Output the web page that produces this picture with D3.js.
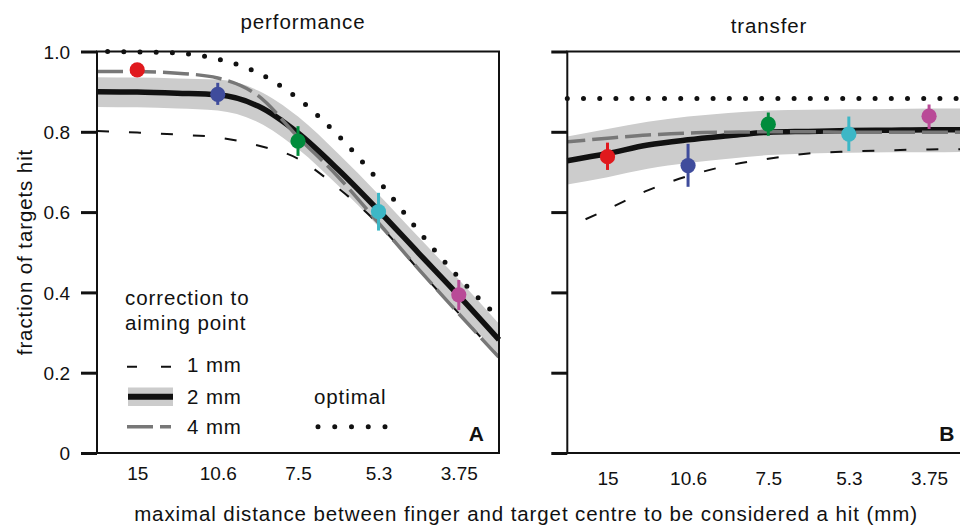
<!DOCTYPE html>
<html>
<head>
<meta charset="utf-8">
<script src="https://cdn.jsdelivr.net/npm/d3@7"></script>
<style>
  body { margin: 0; background: #fff; }
  svg { display: block; font-family: "Liberation Sans", Arial, Helvetica, sans-serif; }
</style>
</head>
<body>
<svg id="chart" width="960" height="527"></svg>
<script>
// Hit radius categories (mm), largest to smallest
const categories = ["15", "10.6", "7.5", "5.3", "3.75"];
const categoryDist = [15, 10.6, 7.5, 5.3, 3.75];
const yTicks = [0, 0.2, 0.4, 0.6, 0.8, 1.0];

// Distances (mm) at which the model curves are sampled
const sampleDist = [17.84, 15, 12.61, 10.6, 8.91, 7.5, 6.31, 5.3, 4.46, 3.75, 3.153];

// Performance: model predictions
const perfOptimal = [1.000, 0.999, 0.996, 0.981, 0.947, 0.883, 0.791, 0.678, 0.553, 0.437, 0.336];
const perf1mm     = [0.802, 0.798, 0.793, 0.786, 0.766, 0.733, 0.660, 0.570, 0.457, 0.348, 0.239];
const perf2mm     = [0.900, 0.899, 0.896, 0.892, 0.864, 0.797, 0.706, 0.604, 0.498, 0.392, 0.282];
const perf2mmLow  = [0.862, 0.861, 0.858, 0.853, 0.824, 0.757, 0.666, 0.564, 0.458, 0.352, 0.243];
const perf2mmHigh = [0.936, 0.935, 0.933, 0.930, 0.903, 0.838, 0.746, 0.644, 0.538, 0.432, 0.322];
const perf4mm     = [0.950, 0.950, 0.946, 0.934, 0.890, 0.787, 0.688, 0.573, 0.458, 0.347, 0.238];
// Performance: observed means with error bars
const perfMean = [0.954, 0.893, 0.777, 0.601, 0.394];
const perfLow  = [0.948, 0.867, 0.740, 0.554, 0.356];
const perfHigh = [0.960, 0.922, 0.814, 0.648, 0.431];

// Transfer: model predictions
const transOptimal = [0.883, 0.883, 0.883, 0.883, 0.883, 0.883, 0.883, 0.883, 0.883, 0.883, 0.883];
const trans1mm     = [0.562, 0.607, 0.654, 0.690, 0.716, 0.733, 0.746, 0.751, 0.754, 0.756, 0.757];
const trans2mm     = [0.728, 0.746, 0.767, 0.780, 0.790, 0.799, 0.801, 0.803, 0.804, 0.805, 0.805];
const trans2mmLow  = [0.669, 0.687, 0.708, 0.722, 0.733, 0.742, 0.746, 0.748, 0.749, 0.749, 0.750];
const trans2mmHigh = [0.788, 0.807, 0.825, 0.838, 0.847, 0.853, 0.855, 0.856, 0.857, 0.858, 0.858];
const trans4mm     = [0.775, 0.784, 0.792, 0.797, 0.799, 0.800, 0.800, 0.799, 0.799, 0.799, 0.799];
// Transfer: observed means with error bars
const transMean = [0.738, 0.716, 0.819, 0.794, 0.839];
const transLow  = [0.705, 0.663, 0.790, 0.752, 0.807];
const transHigh = [0.773, 0.770, 0.848, 0.838, 0.868];

const pointColors = ["#e0191d", "#3f4c9c", "#008c3c", "#3db7c6", "#b94a97"];

const svg = d3.select("#chart");
const plotW = 402, plotH = 401.5, plotTop = 51.5;
const ink = "#111";
const labelFont = { size: "20.5px", spacing: "0.9px" };

const x = d3.scaleLog().domain([17.84, 3.153]).range([0, plotW]);
const y = d3.scaleLinear().domain([0, 1]).range([plotH, 0]);

const line = d3.line()
  .x((d, i) => x(sampleDist[i]))
  .y(d => y(d))
  .curve(d3.curveMonotoneX);

const band = d3.area()
  .x(d => x(d.dist))
  .y0(d => y(d.lo))
  .y1(d => y(d.hi))
  .curve(d3.curveMonotoneX);

const panels = [
  { title: "performance", letter: "A", left: 97, titleX: 303, titleY: 29, tickLabelY: 27, showYLabels: true,
    optimal: perfOptimal, m1: perf1mm, m2: perf2mm, lo: perf2mmLow, hi: perf2mmHigh, m4: perf4mm,
    mean: perfMean, low: perfLow, high: perfHigh,
    dash1Offset: 0, dash4Offset: 0, dotOffset: 5.6 },
  { title: "transfer", letter: "B", left: 567.3, titleX: 769, titleY: 33, tickLabelY: 32, showYLabels: false,
    optimal: transOptimal, m1: trans1mm, m2: trans2mm, lo: trans2mmLow, hi: trans2mmHigh, m4: trans4mm,
    mean: transMean, low: transLow, high: transHigh,
    dash1Offset: 12, dash4Offset: 8, dotOffset: 0 }
];

panels.forEach(p => {
  const g = svg.append("g").attr("transform", `translate(${p.left},${plotTop})`);

  // confidence band of the 2 mm model
  g.append("path")
    .datum(sampleDist.map((dist, i) => ({ dist, lo: p.lo[i], hi: p.hi[i] })))
    .attr("d", band)
    .attr("fill", "#cccccc");

  // 1 mm model
  g.append("path").datum(p.m1).attr("d", line)
    .attr("fill", "none").attr("stroke", ink).attr("stroke-width", 2)
    .attr("stroke-dasharray", "12,20").attr("stroke-dashoffset", p.dash1Offset);

  // 2 mm model
  g.append("path").datum(p.m2).attr("d", line)
    .attr("fill", "none").attr("stroke", ink).attr("stroke-width", 5.5);

  // 4 mm model
  g.append("path").datum(p.m4).attr("d", line)
    .attr("fill", "none").attr("stroke", "#777").attr("stroke-width", 3.5)
    .attr("stroke-dasharray", "26,7").attr("stroke-dashoffset", p.dash4Offset);

  // optimal
  g.append("path").datum(p.optimal).attr("d", line)
    .attr("fill", "none").attr("stroke", ink).attr("stroke-width", 5)
    .attr("stroke-linecap", "round")
    .attr("stroke-dasharray", "0,16.2").attr("stroke-dashoffset", p.dotOffset);

  // frame
  g.append("rect").attr("width", plotW).attr("height", plotH)
    .attr("fill", "none").attr("stroke", ink).attr("stroke-width", 2);

  // y axis
  const yAxis = d3.axisLeft(y).tickValues(yTicks).tickSize(16).tickPadding(11)
    .tickFormat(d => p.showYLabels ? (d === 0 ? "0" : d3.format(".1f")(d)) : "");
  g.append("g").call(yAxis)
    .call(a => a.select(".domain").remove())
    .call(a => a.selectAll(".tick line").attr("stroke", ink).attr("stroke-width", 3))
    .call(a => a.selectAll(".tick text").attr("fill", ink).attr("font-size", "19px")
      .attr("font-family", null).attr("dy", "0.36em"));

  // x axis labels
  const xAxis = d3.axisBottom(x).tickValues(categoryDist).tickSize(0)
    .tickFormat((d, i) => categories[i]);
  g.append("g").attr("transform", `translate(0,${plotH})`).call(xAxis)
    .call(a => a.select(".domain").remove())
    .call(a => a.selectAll(".tick text").attr("fill", ink).attr("font-size", "19px")
      .attr("font-family", null).attr("y", p.tickLabelY).attr("dy", null));

  // observed data: error bars and means
  const pts = g.append("g");
  categoryDist.forEach((dist, i) => {
    pts.append("line")
      .attr("x1", x(dist)).attr("x2", x(dist))
      .attr("y1", y(p.low[i])).attr("y2", y(p.high[i]))
      .attr("stroke", pointColors[i]).attr("stroke-width", 3);
    pts.append("circle")
      .attr("cx", x(dist)).attr("cy", y(p.mean[i])).attr("r", 7.6)
      .attr("fill", pointColors[i]);
  });

  // panel title and letter
  svg.append("text").attr("x", p.titleX).attr("y", p.titleY)
    .attr("text-anchor", "middle").attr("font-size", labelFont.size)
    .attr("letter-spacing", labelFont.spacing).attr("fill", ink).text(p.title);
  g.append("text").attr("x", plotW - 15).attr("y", plotH - 12)
    .attr("text-anchor", "end").attr("font-size", "21px").attr("font-weight", "bold")
    .attr("fill", ink).text(p.letter);
});

// axis titles
svg.append("text").attr("x", 526).attr("y", 521).attr("text-anchor", "middle")
  .attr("font-size", labelFont.size).attr("letter-spacing", labelFont.spacing).attr("fill", ink)
  .text("maximal distance between finger and target centre to be considered a hit (mm)");
svg.append("text").attr("transform", "translate(32,252) rotate(-90)").attr("text-anchor", "middle")
  .attr("font-size", labelFont.size).attr("letter-spacing", labelFont.spacing).attr("fill", ink)
  .text("fraction of targets hit");

// legend
const lg = svg.append("g").attr("font-size", labelFont.size)
  .attr("letter-spacing", labelFont.spacing).attr("fill", ink);
lg.append("text").attr("x", 125).attr("y", 305).text("correction to");
lg.append("text").attr("x", 125).attr("y", 330).text("aiming point");

lg.append("line").attr("x1", 127).attr("x2", 171).attr("y1", 366.7).attr("y2", 366.7)
  .attr("stroke", ink).attr("stroke-width", 2).attr("stroke-dasharray", "10,24");
lg.append("text").attr("x", 187).attr("y", 372).text("1 mm");

lg.append("rect").attr("x", 128).attr("y", 387.5).attr("width", 45).attr("height", 18.5)
  .attr("fill", "#cccccc");
lg.append("line").attr("x1", 128).attr("x2", 173).attr("y1", 396.7).attr("y2", 396.7)
  .attr("stroke", ink).attr("stroke-width", 6);
lg.append("text").attr("x", 187).attr("y", 404).text("2 mm");

lg.append("line").attr("x1", 127).attr("x2", 171).attr("y1", 426.7).attr("y2", 426.7)
  .attr("stroke", "#777").attr("stroke-width", 3.5).attr("stroke-dasharray", "26,7");
lg.append("text").attr("x", 187).attr("y", 434).text("4 mm");

lg.append("text").attr("x", 314).attr("y", 404).text("optimal");
lg.append("line").attr("x1", 318).attr("x2", 386).attr("y1", 426.7).attr("y2", 426.7)
  .attr("stroke", ink).attr("stroke-width", 5).attr("stroke-linecap", "round")
  .attr("stroke-dasharray", "0,16.75");
</script>
</body>
</html>
